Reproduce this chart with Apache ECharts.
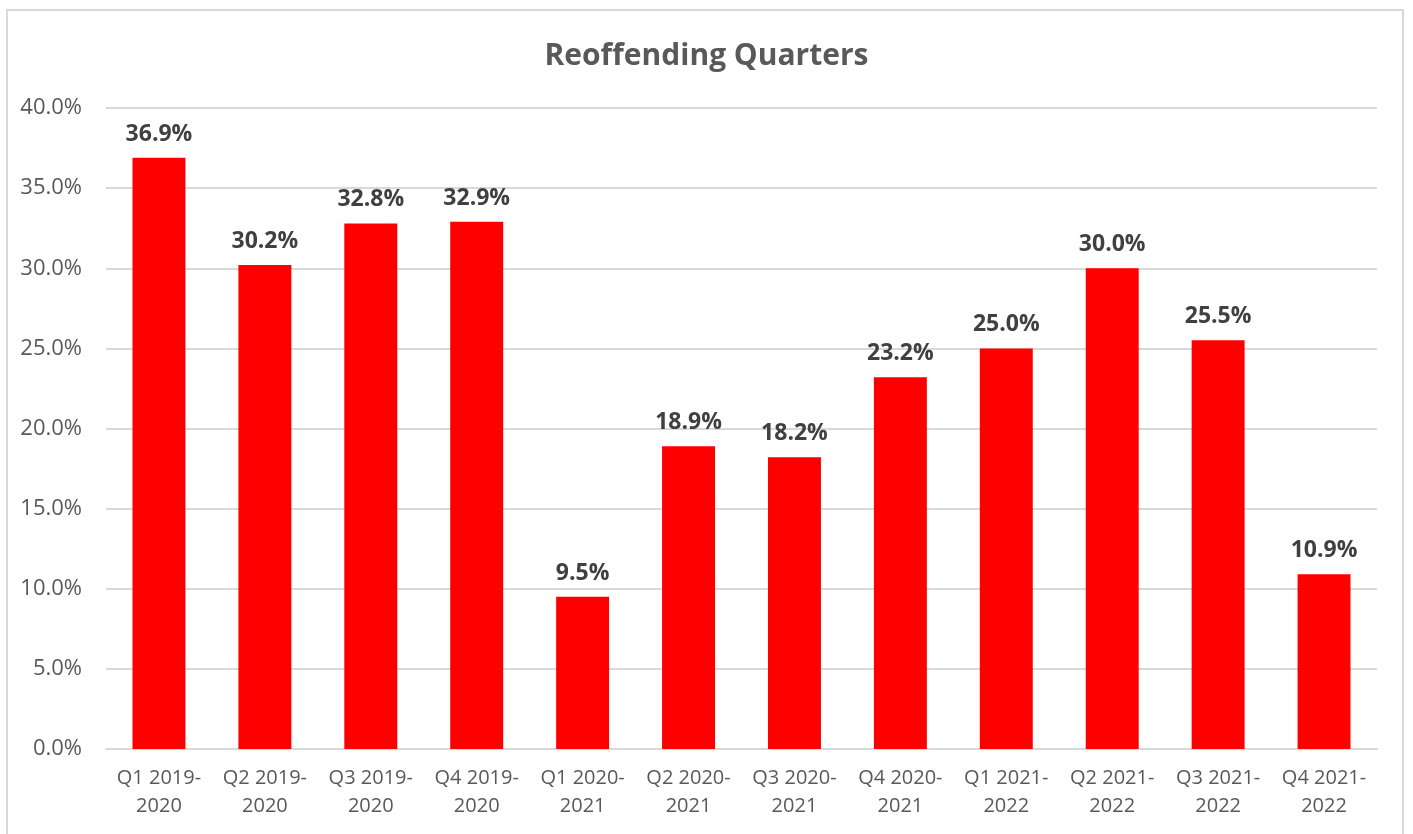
<!DOCTYPE html>
<html>
<head>
<meta charset="utf-8">
<script src="https://cdn.jsdelivr.net/npm/echarts@6/dist/echarts.min.js"></script>
<style>
  html, body { margin: 0; padding: 0; background: #fff; }
  #frame { position: absolute; left: 6px; top: 9px; width: 1398px; height: 840px; border: 2px solid #d9d9d9; box-sizing: border-box; }
  #chart_reoffending { position: absolute; left: 0; top: 0; width: 1413px; height: 834px; }
</style>
</head>
<body>
<div id="frame"></div>
<div id="chart_reoffending"></div>
<script>
const categories = [
    'Q1 2019-\n2020', 'Q2 2019-\n2020', 'Q3 2019-\n2020', 'Q4 2019-\n2020',
    'Q1 2020-\n2021', 'Q2 2020-\n2021', 'Q3 2020-\n2021', 'Q4 2020-\n2021',
    'Q1 2021-\n2022', 'Q2 2021-\n2022', 'Q3 2021-\n2022', 'Q4 2021-\n2022'
];
const reoffendingRate = [36.9, 30.2, 32.8, 32.9, 9.5, 18.9, 18.2, 23.2, 25.0, 30.0, 25.5, 10.9];
const yMin = 0;
const yMax = 40;
const yStep = 5;

const gridColor = '#d9d9d9';
const textColor = '#595959';
const fontFamily = '"Open Sans", "Noto Sans", sans-serif';

function getOption() {
    return {
        backgroundColor: 'transparent',
        animation: false,
        title: {
            text: 'Reoffending Quarters',
            left: 'center',
            top: 36,
            textStyle: {
                fontFamily: fontFamily,
                fontSize: 30,
                fontWeight: 'bold',
                color: textColor
            }
        },
        grid: {
            left: 106,
            right: 36,
            top: 108,
            bottom: 85
        },
        xAxis: {
            type: 'category',
            data: categories,
            axisLine: { lineStyle: { color: gridColor, width: 2 } },
            axisTick: { show: false },
            axisLabel: {
                interval: 0,
                margin: 15,
                fontFamily: fontFamily,
                fontSize: 20,
                lineHeight: 28,
                color: textColor
            }
        },
        yAxis: {
            type: 'value',
            min: yMin,
            max: yMax,
            interval: yStep,
            axisLine: { show: false },
            axisTick: { show: false },
            axisLabel: {
                margin: 24,
                fontFamily: fontFamily,
                fontSize: 22,
                color: textColor,
                formatter: v => v.toFixed(1) + '%'
            },
            splitLine: { lineStyle: { color: gridColor, width: 2 } }
        },
        series: [
            {
                name: 'Reoffending',
                type: 'bar',
                barWidth: '50%',
                itemStyle: { color: '#ff0000' },
                label: {
                    show: true,
                    position: 'top',
                    distance: 12,
                    fontFamily: fontFamily,
                    fontSize: 23,
                    fontWeight: 'bold',
                    color: '#404040',
                    formatter: p => p.value.toFixed(1) + '%'
                },
                data: reoffendingRate
            }
        ]
    };
}

const chart = echarts.init(document.getElementById('chart_reoffending'), null, { renderer: 'canvas' });
chart.setOption(getOption());
</script>
</body>
</html>
